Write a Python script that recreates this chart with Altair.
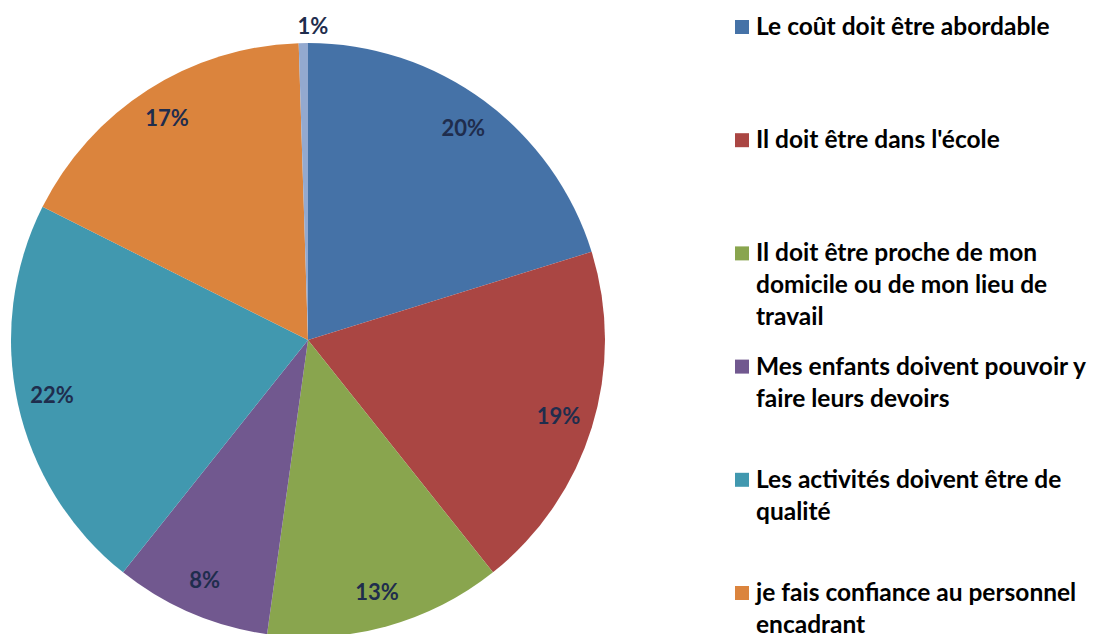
import altair as alt
import pandas as pd

# ---- data ----
categories = [
    "Le coût doit être abordable",
    "Il doit être dans l'école",
    "Il doit être proche de mon domicile ou de mon lieu de travail",
    "Mes enfants doivent pouvoir y faire leurs devoirs",
    "Les activités doivent être de qualité",
    "je fais confiance au personnel encadrant",
    "Autre",
]
values = [20.2, 19.1, 12.9, 8.5, 21.7, 17.1, 0.5]
pct_labels = ["20%", "19%", "13%", "8%", "22%", "17%", "1%"]
colors = ["#4572A7", "#AA4643", "#89A54E", "#71588F", "#4198AF", "#DB843D", "#93A9CF"]
legend_lines = [
    ["Le coût doit être abordable"],
    ["Il doit être dans l'école"],
    ["Il doit être proche de mon", "domicile ou de mon lieu de", "travail"],
    ["Mes enfants doivent pouvoir y", "faire leurs devoirs"],
    ["Les activités doivent être de", "qualité"],
    ["je fais confiance au personnel", "encadrant"],
]

pie_df = pd.DataFrame({
    "cat": categories,
    "value": values,
    "label": pct_labels,
    "order": list(range(len(categories))),
})
legend_df = pd.DataFrame({
    "cat": categories[:len(legend_lines)],
    "text": ["\n".join(l) for l in legend_lines],
    "idx": list(range(len(legend_lines))),
})

FONT = "Lato"
color_scale = alt.Scale(domain=categories, range=colors)
CX, CY, R = 300, 332, 297

base = alt.Chart(pie_df)
theta = alt.Theta("value:Q", stack=True)
order = alt.Order("order:Q")

arcs = base.mark_arc(radius=R).encode(
    theta=theta,
    order=order,
    color=alt.Color("cat:N", scale=color_scale, legend=None),
    x=alt.value(CX),
    y=alt.value(CY),
)

labels = base.transform_calculate(
    rlab="datum.value < 2 ? 313 : 262"
).mark_text(
    font=FONT, fontWeight="bold", fontSize=22, color="#1F2D4D"
).encode(
    theta=theta,
    order=order,
    radius=alt.Radius("rlab:Q", scale=None),
    text="label:N",
    x=alt.value(CX),
    y=alt.value(CY),
)

leg = alt.Chart(legend_df)
yenc = alt.Y("idx:O", scale=alt.Scale(type="point", range=[19, 585], padding=0), axis=None)

squares = leg.mark_square(size=196, filled=True, opacity=1).encode(
    y=yenc,
    x=alt.value(734),
    color=alt.Color("cat:N", scale=color_scale, legend=None),
)

texts = leg.mark_text(
    font=FONT, fontWeight="bold", fontSize=24.5, color="#000000",
    align="left", baseline="top", lineBreak="\n", lineHeight=32, dy=-11,
).encode(
    y=yenc,
    x=alt.value(748),
    text="text:N",
)

chart = alt.layer(arcs, labels, squares, texts).properties(
    width=1082, height=626, padding=0, autosize="none"
).configure_view(stroke=None)

chart.save("out.html", embed_options={"renderer": "svg", "actions": False})
